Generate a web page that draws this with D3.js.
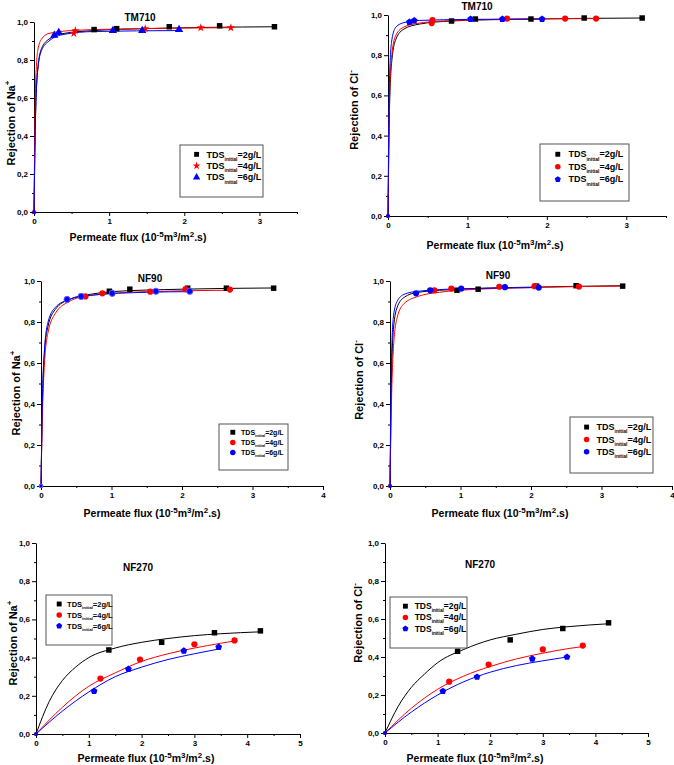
<html>
<head>
<title>Rejection vs permeate flux</title>
<script src="https://d3js.org/d3.v7.min.js"></script>
<style>
body { margin: 0; background: #fff; }
text { font-family: "Liberation Sans", Arial, sans-serif; font-weight: bold; fill: #000; }
</style>
</head>
<body>
<div id="chart"></div>
<script>
var tm710Na2 = [[0,0],[0.8,0.96],[1.1,0.965],[1.8,0.975],[2.47,0.98],[3.2,0.975]];
var tm710Na4 = [[0,0],[0.53,0.94],[0.55,0.955],[1.48,0.965],[2.22,0.97],[2.62,0.97]];
var tm710Na6 = [[0,0],[0.27,0.93],[0.33,0.945],[1.05,0.955],[1.44,0.955],[1.93,0.96]];
var tm710Cl2 = [[0,0],[0.8,0.97],[1.1,0.98],[1.8,0.98],[2.47,0.985],[3.2,0.985]];
var tm710Cl4 = [[0,0],[0.55,0.96],[0.56,0.975],[1.5,0.982],[2.23,0.982],[2.62,0.982]];
var tm710Cl6 = [[0,0],[0.27,0.965],[0.33,0.972],[1.04,0.98],[1.44,0.98],[1.94,0.98]];
var nf90Na2 = [[0,0],[0.97,0.95],[1.26,0.96],[2.08,0.965],[2.63,0.965],[3.3,0.965]];
var nf90Na4 = [[0,0],[0.63,0.925],[0.87,0.94],[1.55,0.948],[2.05,0.96],[2.68,0.958]];
var nf90Na6 = [[0,0],[0.37,0.91],[0.57,0.925],[1.01,0.94],[1.63,0.95],[2.11,0.95]];
var nf90Cl2 = [[0,0],[0.95,0.955],[1.25,0.96],[2.08,0.975],[2.64,0.977],[3.3,0.975]];
var nf90Cl4 = [[0,0],[0.63,0.955],[0.87,0.963],[1.55,0.972],[2.05,0.975],[2.68,0.973]];
var nf90Cl6 = [[0,0],[0.37,0.94],[0.57,0.955],[1.01,0.963],[1.63,0.97],[2.11,0.968]];
var nf270Na2 = [[0,0],[1.38,0.44],[2.38,0.48],[3.38,0.53],[4.25,0.54]];
var nf270Na4 = [[0,0],[1.22,0.29],[1.97,0.39],[3.0,0.47],[3.76,0.49]];
var nf270Na6 = [[0,0],[1.1,0.225],[1.75,0.34],[2.8,0.435],[3.46,0.455]];
var nf270Cl2 = [[0,0],[1.38,0.43],[2.38,0.49],[3.38,0.55],[4.25,0.58]];
var nf270Cl4 = [[0,0],[1.22,0.27],[1.97,0.36],[3.0,0.44],[3.76,0.46]];
var nf270Cl6 = [[0,0],[1.1,0.22],[1.75,0.295],[2.8,0.39],[3.46,0.40]];

// fitted curves
var tm710Na2Fit = [[0,0],[0.02,0.5],[0.05,0.75],[0.1,0.86],[0.2,0.91],[0.4,0.94],[0.8,0.955],[1.5,0.965],[3.2,0.975]];
var tm710Na4Fit = [[0,0],[0.02,0.65],[0.05,0.85],[0.1,0.91],[0.2,0.94],[0.5,0.955],[1,0.962],[2.62,0.97]];
var tm710Na6Fit = [[0,0],[0.02,0.5],[0.05,0.75],[0.1,0.85],[0.2,0.9],[0.4,0.935],[0.8,0.95],[1.93,0.955]];
var tm710Cl2Fit = [[0,0],[0.02,0.55],[0.05,0.78],[0.1,0.88],[0.2,0.93],[0.4,0.955],[0.8,0.97],[1.5,0.978],[3.2,0.985]];
var tm710Cl4Fit = [[0,0],[0.02,0.6],[0.05,0.81],[0.1,0.9],[0.2,0.94],[0.4,0.96],[0.8,0.972],[1.5,0.979],[2.62,0.982]];
var tm710Cl6Fit = [[0,0],[0.02,0.7],[0.05,0.88],[0.1,0.94],[0.2,0.962],[0.4,0.973],[1,0.978],[1.94,0.98]];
var nf90Na2Fit = [[0,0],[0.02,0.4],[0.05,0.65],[0.1,0.78],[0.2,0.86],[0.4,0.91],[0.7,0.935],[1,0.948],[2,0.96],[3.3,0.966]];
var nf90Na4Fit = [[0,0],[0.02,0.35],[0.05,0.6],[0.1,0.75],[0.2,0.84],[0.4,0.9],[0.7,0.93],[1.5,0.948],[2.68,0.955]];
var nf90Na6Fit = [[0,0],[0.02,0.42],[0.05,0.67],[0.1,0.8],[0.2,0.87],[0.4,0.91],[0.7,0.93],[1.5,0.945],[2.11,0.948]];
var nf90Cl2Fit = [[0,0],[0.02,0.5],[0.05,0.77],[0.1,0.87],[0.2,0.92],[0.4,0.945],[1,0.96],[2,0.97],[3.3,0.977]];
var nf90Cl4Fit = [[0,0],[0.02,0.4],[0.05,0.68],[0.1,0.82],[0.2,0.89],[0.4,0.925],[0.7,0.945],[1,0.955],[2,0.968],[3.3,0.975]];
var nf90Cl6Fit = [[0,0],[0.02,0.6],[0.05,0.83],[0.1,0.9],[0.2,0.935],[0.4,0.95],[1,0.962],[2.11,0.968]];
var nf270Na2Fit = [[0,0],[0.25,0.17],[0.5,0.28],[0.75,0.35],[1,0.4],[1.5,0.45],[2,0.48],[2.5,0.5],[3,0.515],[3.5,0.525],[4.25,0.535]];
var nf270Na4Fit = [[0,0],[0.5,0.14],[1,0.25],[1.5,0.32],[2,0.38],[2.5,0.42],[3,0.45],[3.5,0.475],[3.76,0.487]];
var nf270Na6Fit = [[0,0],[0.5,0.12],[1,0.22],[1.5,0.3],[2,0.35],[2.5,0.39],[3,0.42],[3.46,0.445]];
var nf270Cl2Fit = [[0,0],[0.25,0.14],[0.5,0.24],[0.75,0.31],[1,0.37],[1.5,0.44],[2,0.49],[2.5,0.52],[3,0.545],[3.5,0.56],[4.25,0.575]];
var nf270Cl4Fit = [[0,0],[0.5,0.13],[1,0.23],[1.5,0.3],[2,0.35],[2.5,0.39],[3,0.42],[3.5,0.445],[3.76,0.455]];
var nf270Cl6Fit = [[0,0],[0.5,0.11],[1,0.2],[1.5,0.27],[2,0.32],[2.5,0.355],[3,0.38],[3.46,0.4]];

var seriesLabels = ["=2g/L", "=4g/L", "=6g/L"];
var seriesColors = ["#000", "#ff0000", "#0000ff"];
var yTicks = [0, 0.2, 0.4, 0.6, 0.8, 1.0];

// pentagon symbol
var symbolPentagon = {
	draw: function(ctx, size) {
		var r = Math.sqrt(size / 2.378);
		for (var i = 0; i < 5; i++) {
			var a = -Math.PI / 2 + i * 2 * Math.PI / 5;
			if (i == 0) ctx.moveTo(r * Math.cos(a), r * Math.sin(a));
			else ctx.lineTo(r * Math.cos(a), r * Math.sin(a));
		}
		ctx.closePath();
	}
};

var panels = [
	{ title: "TM710", ion: "Na", sup: "+", xMax: 3.5, box: [34, 297, 22, 212],
	  titleAt: [140, 21], xTitleAt: [138, 241], yTitleAt: [11, 123], legend: [180, 145, 263, 197], fs: 9,
	  symbols: [d3.symbolSquare, d3.symbolStar, d3.symbolTriangle],
	  pts: [tm710Na2, tm710Na4, tm710Na6], fits: [tm710Na2Fit, tm710Na4Fit, tm710Na6Fit] },
	{ title: "TM710", ion: "Cl", sup: "-", xMax: 3.5, box: [388, 666, 15, 216],
	  titleAt: [477, 10], xTitleAt: [495, 249], yTitleAt: [354, 110], legend: [540, 144, 629, 201], fs: 9,
	  symbols: [d3.symbolSquare, d3.symbolCircle, symbolPentagon],
	  pts: [tm710Cl2, tm710Cl4, tm710Cl6], fits: [tm710Cl2Fit, tm710Cl4Fit, tm710Cl6Fit] },
	{ title: "NF90", ion: "Na", sup: "+", xMax: 4, box: [41, 323, 281, 486],
	  titleAt: [150, 282], xTitleAt: [152, 517], yTitleAt: [16, 393], legend: [219, 424, 288, 470], fs: 7,
	  symbols: [d3.symbolSquare, d3.symbolCircle, d3.symbolCircle],
	  pts: [nf90Na2, nf90Na4, nf90Na6], fits: [nf90Na2Fit, nf90Na4Fit, nf90Na6Fit] },
	{ title: "NF90", ion: "Cl", sup: "-", xMax: 4, box: [390, 672, 281, 486],
	  titleAt: [498, 279], xTitleAt: [500, 517], yTitleAt: [359, 380], legend: [570, 417, 653, 473], fs: 9,
	  symbols: [d3.symbolSquare, d3.symbolCircle, d3.symbolCircle],
	  pts: [nf90Cl2, nf90Cl4, nf90Cl6], fits: [nf90Cl2Fit, nf90Cl4Fit, nf90Cl6Fit] },
	{ title: "NF270", ion: "Na", sup: "+", xMax: 5, box: [36, 300, 543, 734],
	  titleAt: [138, 571], xTitleAt: [146, 762], yTitleAt: [13, 643], legend: [46, 595, 112, 645], fs: 7.5,
	  symbols: [d3.symbolSquare, d3.symbolCircle, symbolPentagon],
	  pts: [nf270Na2, nf270Na4, nf270Na6], fits: [nf270Na2Fit, nf270Na4Fit, nf270Na6Fit] },
	{ title: "NF270", ion: "Cl", sup: "-", xMax: 5, box: [385, 648, 543, 733],
	  titleAt: [480, 568], xTitleAt: [475, 762], yTitleAt: [358, 623], legend: [390, 597, 467, 648], fs: 8.5,
	  symbols: [d3.symbolSquare, d3.symbolCircle, symbolPentagon],
	  pts: [nf270Cl2, nf270Cl4, nf270Cl6], fits: [nf270Cl2Fit, nf270Cl4Fit, nf270Cl6Fit] }
];

var svg = d3.select("#chart").append("svg")
	.attr("width", 674)
	.attr("height", 765);

var fmtY = function(d) { return d3.format(".1f")(d).replace(".", ","); };

panels.forEach(function(p, pi) {
	var g = svg.append("g");
	var x = d3.scaleLinear().domain([0, p.xMax]).range([p.box[0], p.box[1]]);
	var y = d3.scaleLinear().domain([0, 1]).range([p.box[3], p.box[2]]);

	// minor ticks
	var xMinor = d3.range(0.5, p.xMax + 0.01, 1);
	g.append("g").attr("transform", "translate(0," + p.box[3] + ")")
		.call(d3.axisBottom(x).tickValues(xMinor).tickSize(2).tickFormat(""))
		.call(function(a) { a.select(".domain").remove(); });
	g.append("g").attr("transform", "translate(" + p.box[0] + ",0)")
		.call(d3.axisLeft(y).tickValues(d3.range(0.1, 1, 0.2)).tickSize(2).tickFormat(""))
		.call(function(a) { a.select(".domain").remove(); });

	// major axes
	var xa = g.append("g").attr("transform", "translate(0," + p.box[3] + ")")
		.call(d3.axisBottom(x).tickValues(d3.range(0, Math.floor(p.xMax) + 1)).tickSize(4).tickSizeOuter(0).tickPadding(2).tickFormat(d3.format("d")));
	var ya = g.append("g").attr("transform", "translate(" + p.box[0] + ",0)")
		.call(d3.axisLeft(y).tickValues(yTicks).tickSize(4).tickSizeOuter(0).tickPadding(2).tickFormat(fmtY));
	[xa, ya].forEach(function(a) {
		a.selectAll("text").style("font-size", "8px").style("font-family", "Liberation Sans, Arial, sans-serif").style("font-weight", "bold");
		a.selectAll("line, path").attr("stroke", "#000").attr("stroke-width", 1);
	});

	// fitted lines
	var line = d3.line()
		.x(function(d) { return x(d[0]); })
		.y(function(d) { return y(d[1]); })
		.curve(d3.curveMonotoneX);
	p.fits.forEach(function(f, i) {
		g.append("path").datum(f)
			.attr("d", line)
			.attr("fill", "none")
			.attr("stroke", seriesColors[i])
			.attr("stroke-width", 1);
	});

	// markers
	p.pts.forEach(function(s, i) {
		g.selectAll(".m" + i).data(s).enter().append("path")
			.attr("transform", function(d) { return "translate(" + x(d[0]) + "," + y(d[1]) + ")"; })
			.attr("d", function(d) {
				var sz = p.symbols[i] == d3.symbolStar ? 22 : 30;
				if (d[0] == 0) sz = 10;
				return d3.symbol().type(p.symbols[i]).size(sz)();
			})
			.attr("fill", seriesColors[i])
			.attr("stroke", pi == 2 && i == 2 ? "#5a5aff" : "none");
	});

	// title
	g.append("text").attr("x", p.titleAt[0]).attr("y", p.titleAt[1])
		.attr("text-anchor", "middle").style("font-size", "10px").text(p.title);

	// x title
	var xt = g.append("text").attr("x", p.xTitleAt[0]).attr("y", p.xTitleAt[1])
		.attr("text-anchor", "middle").style("font-size", "10.5px");
	xt.append("tspan").text("Permeate flux (10");
	xt.append("tspan").attr("dy", -4).style("font-size", "8px").text("-5");
	xt.append("tspan").attr("dy", 4).text("m");
	xt.append("tspan").attr("dy", -4).style("font-size", "8px").text("3");
	xt.append("tspan").attr("dy", 4).text("/m");
	xt.append("tspan").attr("dy", -4).style("font-size", "8px").text("2");
	xt.append("tspan").attr("dy", 4).text(".s)");

	// y title
	var yt = g.append("text")
		.attr("transform", "translate(" + (p.yTitleAt[0] + 4) + "," + p.yTitleAt[1] + ") rotate(-90)")
		.attr("text-anchor", "middle").style("font-size", "11px");
	yt.append("tspan").text("Rejection of " + p.ion);
	yt.append("tspan").attr("dy", -5).style("font-size", "8px").text(p.sup);

	// legend
	var L = p.legend, lw = L[2] - L[0], lh = L[3] - L[1];
	g.append("rect").attr("x", L[0]).attr("y", L[1]).attr("width", lw).attr("height", lh)
		.attr("fill", "#fff").attr("stroke", "#555").attr("stroke-width", 1);
	[0.18, 0.4, 0.62].forEach(function(f, i) {
		var ry = L[1] + lh * f;
		g.append("path")
			.attr("transform", "translate(" + (L[0] + lw * 0.2) + "," + ry + ")")
			.attr("d", d3.symbol().type(p.symbols[i]).size(p.symbols[i] == d3.symbolStar ? 20 : 24))
			.attr("fill", seriesColors[i]);
		var t = g.append("text").attr("x", L[0] + lw * 0.32).attr("y", ry + p.fs * 0.35)
			.style("font-size", p.fs + "px");
		t.append("tspan").text("TDS");
		t.append("tspan").attr("dy", p.fs * 0.35).style("font-size", (p.fs * 0.55) + "px").text("initial");
		t.append("tspan").attr("dy", -p.fs * 0.35).text(seriesLabels[i]);
	});
});
</script>
</body>
</html>
